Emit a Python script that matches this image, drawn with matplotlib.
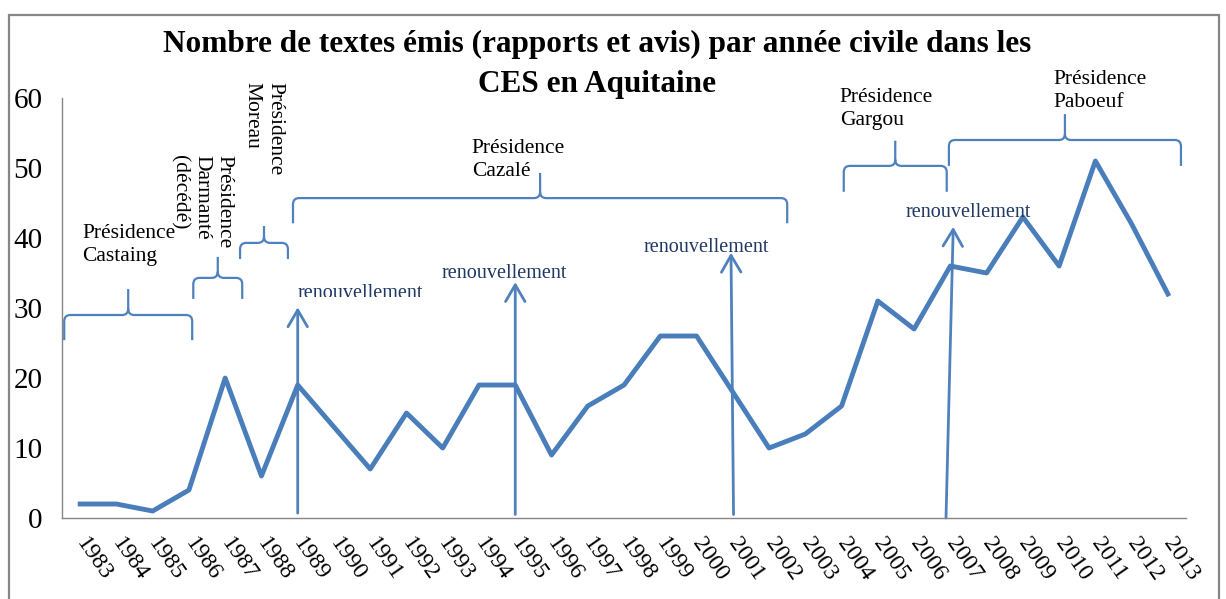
import matplotlib.pyplot as plt
from matplotlib.path import Path
from matplotlib.patches import PathPatch, Rectangle

# Données (nombre de textes émis par année)
years = ['1983', '1984', '1985', '1986', '1987', '1988', '1989', '1990', '1991', '1992',
         '1993', '1994', '1995', '1996', '1997', '1998', '1999', '2000', '2001', '2002',
         '2003', '2004', '2005', '2006', '2007', '2008', '2009', '2010', '2011', '2012', '2013']
textes = [2, 2, 1, 4, 20, 6, 19, 13, 7, 15,
          10, 19, 19, 9, 16, 19, 26, 26, 18, 10,
          12, 16, 31, 27, 36, 35, 43, 36, 51, 42, 32]

# Présidences : accolades (début, fin, niveau, bas, pointe) en index d'année / valeur
pres_labels = ['Présidence\nCastaing', 'Présidence\nDarmanté\n(décédé)', 'Présidence\nMoreau',
               'Présidence\nCazalé', 'Présidence\nGargou', 'Présidence\nPaboeuf']
brace_x0 = [-0.44, 3.12, 4.41, 5.87, 21.06, 23.96]
brace_x1 = [3.09, 4.47, 5.73, 19.5, 23.9, 30.36]
brace_y = [29.0, 34.3, 39.3, 45.7, 50.3, 54.0]
brace_end = [25.4, 31.3, 37.0, 42.1, 46.6, 50.3]
brace_peak = [32.7, 37.3, 41.7, 49.3, 53.9, 57.7]
label_x = [0.05, 3.35, 5.05, 10.8, 20.95, 26.83]
label_y = [39.0, 51.9, 62.3, 51.1, 58.4, 61.0]
label_rot = [0, -90, -90, 0, 0, 0]

# Renouvellements : flèches et textes
renew_xb = [6.0, 12.0, 18.02, 23.88]
renew_xt = [6.0, 12.0, 17.95, 24.08]
renew_yb = [0.7, 0.5, 0.5, 0.0]
renew_yt = [30.1, 33.7, 37.9, 41.6]
renew_tx = [7.72, 11.7, 17.26, 24.5]
renew_ty = [32.1, 35.0, 38.7, 43.6]

title_lines = ['Nombre de textes émis (rapports et avis) par année civile dans les',
               'CES en Aquitaine']

blue = '#4A7EBB'
gray = '#868686'
serif = ['Liberation Serif', 'DejaVu Serif']


def brace(ax, x0, x1, y, yend, ypeak, rx=0.17, ry=0.9):
    xc = (x0 + x1) / 2
    verts = [(x0, yend), (x0, y - ry), (x0, y), (x0 + rx, y),
             (xc - rx, y), (xc, y), (xc, y + ry), (xc, ypeak),
             (xc, y + ry), (xc, y), (xc + rx, y),
             (x1 - rx, y), (x1, y), (x1, y - ry), (x1, yend)]
    codes = [Path.MOVETO, Path.LINETO, Path.CURVE3, Path.CURVE3,
             Path.LINETO, Path.CURVE3, Path.CURVE3, Path.LINETO,
             Path.MOVETO, Path.CURVE3, Path.CURVE3,
             Path.LINETO, Path.CURVE3, Path.CURVE3, Path.LINETO]
    ax.add_patch(PathPatch(Path(verts, codes), fill=False, edgecolor='#4F81BD',
                           lw=1.6, clip_on=False))


fig = plt.figure(figsize=(12.26, 5.99), dpi=100)
ax = fig.add_axes([0.0506, 0.1352, 0.9168, 0.7012])

x = list(range(len(years)))
ax.plot(x, textes, color=blue, lw=3.5, solid_joinstyle='round', zorder=3)

ax.set_xlim(-0.5, len(years) - 0.5)
ax.set_ylim(0, 60)
ax.set_yticks([0, 10, 20, 30, 40, 50, 60])
ax.set_xticks(x)
ax.set_xticklabels(years, rotation=-55, ha='left', va='center', rotation_mode='anchor',
                   fontfamily=serif, fontsize=17)
for lab in ax.get_yticklabels():
    lab.set_fontfamily(serif)
ax.tick_params(axis='y', length=0, pad=14, labelsize=21)
ax.tick_params(axis='x', length=0, pad=16)

for s in ['top', 'right']:
    ax.spines[s].set_visible(False)
for s in ['left', 'bottom']:
    ax.spines[s].set_color(gray)
    ax.spines[s].set_linewidth(1.0)

# accolades et présidences
for i in range(len(pres_labels)):
    brace(ax, brace_x0[i], brace_x1[i], brace_y[i], brace_end[i], brace_peak[i])
    if label_rot[i] == 0:
        ax.text(label_x[i], label_y[i], pres_labels[i], ha='left', va='center',
                fontfamily=serif, fontsize=15.5, linespacing=1.28, clip_on=False)
    else:
        ax.text(label_x[i], label_y[i], pres_labels[i], ha='center', va='top',
                rotation=label_rot[i], multialignment='left', fontfamily=serif,
                fontsize=15.5, linespacing=1.26, clip_on=False)

# renouvellements
for i in range(len(renew_xb)):
    ax.annotate('', xy=(renew_xt[i], renew_yt[i]), xytext=(renew_xb[i], renew_yb[i]),
                arrowprops=dict(arrowstyle='->,head_length=0.6,head_width=0.35',
                                color='#4F81BD', lw=2, shrinkA=0, shrinkB=0,
                                mutation_scale=20), zorder=2)
    t = ax.text(renew_tx[i], renew_ty[i], 'renouvellement', ha='center', va='center',
                color='#1F3864', fontfamily=serif, fontsize=14.5, zorder=4)
    if i == 0:
        # le premier texte est coupé dans l'original
        clip = Rectangle((5.5, 31.6), 4, 10, transform=ax.transData)
        t.set_clip_on(True)
        t.set_clip_path(clip)

# titre sur deux lignes
fig.text(0.487, 0.9132, title_lines[0], ha='center', va='baseline', fontfamily=serif,
         fontweight='bold', fontsize=22.5)
fig.text(0.487, 0.8464, title_lines[1], ha='center', va='baseline', fontfamily=serif,
         fontweight='bold', fontsize=22.5)

fig.add_artist(Rectangle((9 / 1226, -0.05), 1210 / 1226, 1 - 15 / 599 + 0.05, fill=False,
                         edgecolor=gray, lw=1.6, transform=fig.transFigure, clip_on=False))

fig.savefig('out.png', dpi=100)
